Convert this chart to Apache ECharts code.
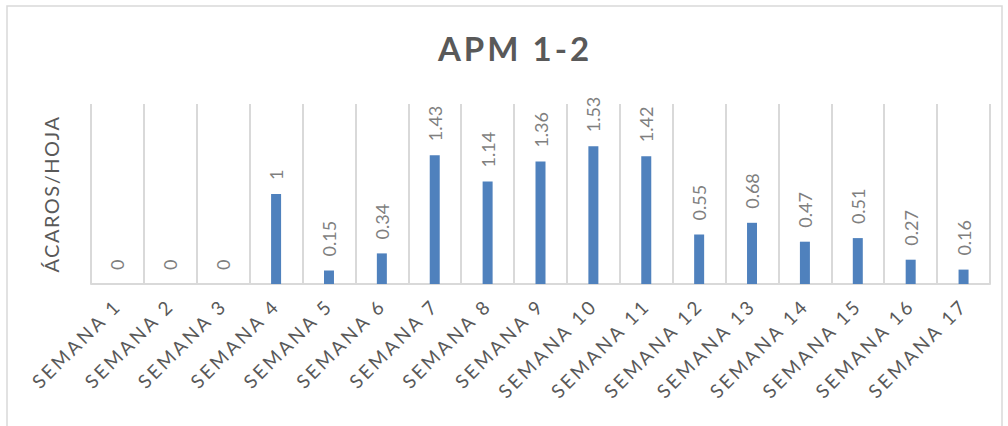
<!DOCTYPE html>
<html>
<head>
<meta charset="utf-8">
<script src="https://cdn.jsdelivr.net/npm/echarts@6/dist/echarts.min.js"></script>
<style>
  html, body { margin: 0; padding: 0; background: #fff; }
  #main { width: 1008px; height: 426px; }
  /* Excel-style character spacing, keyed on font size */
  #main text[style*="33px"] { letter-spacing: 3px; }
  #main text[style*="19px"] { letter-spacing: 2.8px; }
  #main text[style*="20px"] { letter-spacing: 1.5px; }
</style>
</head>
<body>
<div id="main"></div>
<script>
var titleText = 'APM 1-2';
var yName = 'ÁCAROS/HOJA';
var weeks = ['SEMANA 1', 'SEMANA 2', 'SEMANA 3', 'SEMANA 4', 'SEMANA 5', 'SEMANA 6',
  'SEMANA 7', 'SEMANA 8', 'SEMANA 9', 'SEMANA 10', 'SEMANA 11', 'SEMANA 12',
  'SEMANA 13', 'SEMANA 14', 'SEMANA 15', 'SEMANA 16', 'SEMANA 17'];
var mites = [0, 0, 0, 1, 0.15, 0.34, 1.43, 1.14, 1.36, 1.53, 1.42, 0.55, 0.68, 0.47, 0.51, 0.27, 0.16];

var myChart = echarts.init(document.getElementById('main'), null, { renderer: 'svg' });

var option = {
  backgroundColor: '#fff',
  animation: false,
  graphic: [{
    type: 'rect',
    shape: { x: 7, y: 6, width: 995, height: 430 },
    style: { fill: 'none', stroke: '#d9d9d9', lineWidth: 1.5 }
  }],
  title: {
    text: titleText,
    left: 510,
    top: 26,
    textAlign: 'center',
    textStyle: { fontFamily: 'Lato', fontSize: 33, fontWeight: 'bold', color: '#595959' }
  },
  grid: { left: 91, right: 18, top: 104, bottom: 142 },
  xAxis: {
    type: 'category',
    data: weeks,
    axisLine: { lineStyle: { color: '#d9d9d9', width: 2 } },
    axisTick: { show: false },
    splitLine: { show: true, lineStyle: { color: '#d9d9d9', width: 2 } },
    axisLabel: {
      interval: 0,
      rotate: 45,
      margin: 18,
      fontFamily: 'Lato',
      fontSize: 19,
      color: '#595959'
    }
  },
  yAxis: {
    type: 'value',
    min: 0,
    max: 2,
    name: yName,
    nameLocation: 'middle',
    nameGap: 30,
    nameTextStyle: { fontFamily: 'Lato', fontSize: 20, color: '#595959' },
    axisLine: { show: false },
    axisTick: { show: false },
    axisLabel: { show: false },
    splitLine: { show: false }
  },
  series: [{
    type: 'bar',
    data: mites,
    barWidth: 10,
    itemStyle: { color: '#4f81bd' },
    label: {
      show: true,
      position: 'top',
      rotate: 90,
      align: 'left',
      verticalAlign: 'middle',
      distance: 14,
      fontFamily: 'Lato',
      fontSize: 18,
      color: '#7f7f7f'
    }
  }]
};

myChart.setOption(option);
</script>
</body>
</html>
